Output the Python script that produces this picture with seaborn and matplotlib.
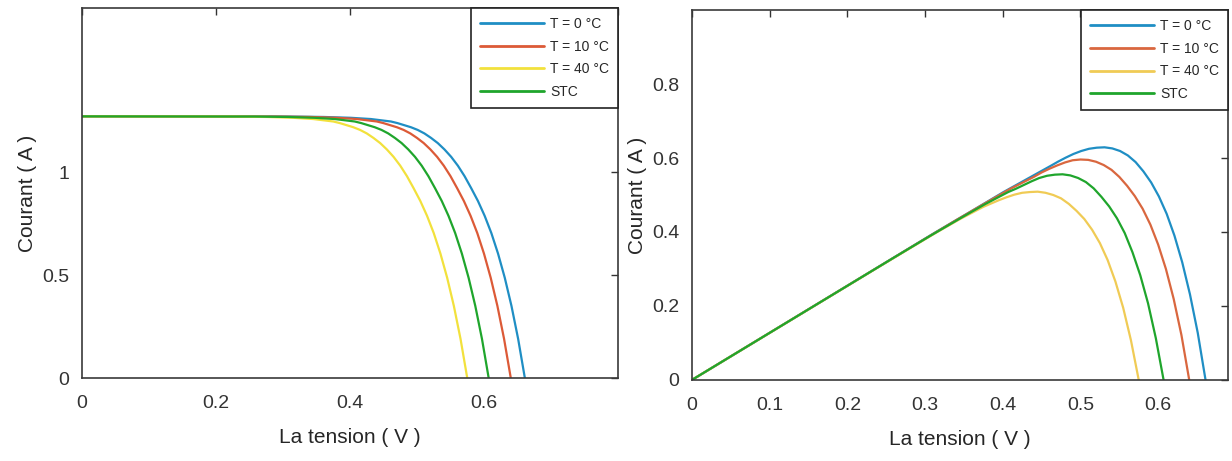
import pandas as pd
import matplotlib
matplotlib.use("Agg")
import matplotlib.pyplot as plt
import seaborn as sns

# Series names, in legend order
series = ["T = 0 °C", "T = 10 °C", "T = 40 °C", "STC"]

# Left panel: current levels (shared by all four curves)
current_levels = [1.273, 1.272, 1.270, 1.266, 1.260, 1.248, 1.240, 1.230, 1.220,
                  1.207, 1.190, 1.168, 1.143, 1.112, 1.076, 1.033, 0.982, 0.923,
                  0.861, 0.789, 0.705, 0.605, 0.488, 0.351, 0.190, 0.0]

# voltage where each curve reaches those current levels
v_t0 = [0, 0.311, 0.361, 0.401, 0.431, 0.461, 0.471, 0.481, 0.491, 0.501, 0.511,
        0.521, 0.531, 0.541, 0.551, 0.561, 0.571, 0.581, 0.591, 0.601, 0.611,
        0.621, 0.631, 0.641, 0.651, 0.661]
v_t10 = [0, 0.290, 0.340, 0.380, 0.410, 0.440, 0.450, 0.460, 0.470, 0.480, 0.490,
         0.500, 0.510, 0.520, 0.530, 0.540, 0.550, 0.560, 0.570, 0.580, 0.590,
         0.600, 0.610, 0.620, 0.630, 0.640]
v_t40 = [0, 0.225, 0.275, 0.315, 0.345, 0.375, 0.385, 0.395, 0.405, 0.415, 0.425,
         0.435, 0.445, 0.455, 0.465, 0.475, 0.485, 0.495, 0.505, 0.515, 0.525,
         0.535, 0.545, 0.555, 0.565, 0.575]
v_stc = [0, 0.257, 0.307, 0.347, 0.377, 0.407, 0.417, 0.427, 0.437, 0.447, 0.457,
         0.467, 0.477, 0.487, 0.497, 0.507, 0.517, 0.527, 0.537, 0.547, 0.557,
         0.567, 0.577, 0.587, 0.597, 0.607]

# Right panel: values at the same voltages
p_t0 = [0, 0.396, 0.458, 0.508, 0.543, 0.578, 0.590, 0.601, 0.611, 0.619, 0.625,
        0.628, 0.629, 0.626, 0.619, 0.607, 0.589, 0.564, 0.534, 0.496, 0.449,
        0.390, 0.318, 0.231, 0.127, 0]
p_t10 = [0, 0.369, 0.432, 0.481, 0.517, 0.549, 0.561, 0.571, 0.580, 0.588, 0.594,
         0.596, 0.595, 0.590, 0.581, 0.568, 0.549, 0.525, 0.497, 0.463, 0.420,
         0.366, 0.300, 0.219, 0.121, 0]
p_t40 = [0, 0.286, 0.349, 0.399, 0.435, 0.468, 0.477, 0.486, 0.494, 0.501, 0.506,
         0.508, 0.509, 0.506, 0.500, 0.491, 0.476, 0.457, 0.435, 0.406, 0.370,
         0.324, 0.266, 0.195, 0.107, 0]
p_stc = [0, 0.327, 0.390, 0.439, 0.475, 0.508, 0.517, 0.527, 0.537, 0.546, 0.552,
         0.555, 0.556, 0.553, 0.546, 0.535, 0.518, 0.495, 0.469, 0.437, 0.397,
         0.345, 0.283, 0.207, 0.113, 0]

volts = [v_t0, v_t10, v_t40, v_stc]
powers = [p_t0, p_t10, p_t40, p_stc]

# long table for seaborn
rows = []
for name, v, p in zip(series, volts, powers):
    for k in range(len(v)):
        rows.append({"serie": name, "V": v[k], "I": current_levels[k], "P": p[k]})
df = pd.DataFrame(rows)

pal_left = {"T = 0 °C": "#1f8ec4", "T = 10 °C": "#dc5a37",
            "T = 40 °C": "#f2e13c", "STC": "#1fa52c"}
pal_right = {"T = 0 °C": "#1f8ec4", "T = 10 °C": "#d9673f",
             "T = 40 °C": "#f0cb55", "STC": "#1fa52c"}

sns.set_theme(style="white")
plt.rcParams["font.family"] = ["Liberation Sans", "DejaVu Sans"]

fig = plt.figure(figsize=(12.32, 4.61), dpi=100)
ax1 = fig.add_axes([0.0666, 0.180, 0.435, 0.8026])
ax2 = fig.add_axes([0.5617, 0.176, 0.4351, 0.802])

for ax, ycol, pal in [(ax1, "I", pal_left), (ax2, "P", pal_right)]:
    sns.lineplot(data=df, x="V", y=ycol, hue="serie", hue_order=series,
                 palette=pal, sort=False, estimator=None, linewidth=1.6, ax=ax)

ax1.set_xlim(0, 0.8)
ax1.set_ylim(0, 1.8)
ax1.set_xticks([0, 0.2, 0.4, 0.6, 0.8])
ax1.set_xticklabels(["0", "0.2", "0.4", "0.6", ""])
ax1.set_yticks([0, 0.5, 1, 1.5])
ax1.set_yticklabels(["0", "0.5", "1", ""])

ax2.set_xlim(0, 0.69)
ax2.set_ylim(0, 1.0)
ax2.set_xticks([0, 0.1, 0.2, 0.3, 0.4, 0.5, 0.6])
ax2.set_xticklabels(["0", "0.1", "0.2", "0.3", "0.4", "0.5", "0.6"])
ax2.set_yticks([0, 0.2, 0.4, 0.6, 0.8, 1.0])
ax2.set_yticklabels(["0", "0.2", "0.4", "0.6", "0.8", ""])

for ax in (ax1, ax2):
    ax.set_xlabel("La tension ( V )", fontsize=15, color="#262626", labelpad=12)
    ax.set_ylabel("Courant ( A )", fontsize=15, color="#262626", labelpad=4)
    ax.tick_params(direction="in", length=5, width=1, top=True, right=True,
                   labelsize=14, colors="#333333")
    ax.tick_params(axis="x", pad=12)
    ax.tick_params(axis="y", pad=9)
    for s in ax.spines.values():
        s.set_color("#3a3a3a")
        s.set_linewidth(1.2)
    leg = ax.legend(loc="upper right", borderaxespad=0, fontsize=10,
                    handlelength=4.6, fancybox=False, framealpha=1,
                    edgecolor="#222222", labelspacing=0.62,
                    borderpad=0.65, handletextpad=0.45)
    leg.get_frame().set_linewidth(1.2)
    for line in leg.get_lines():
        line.set_linewidth(2)

fig.savefig("out.png", dpi=100)
